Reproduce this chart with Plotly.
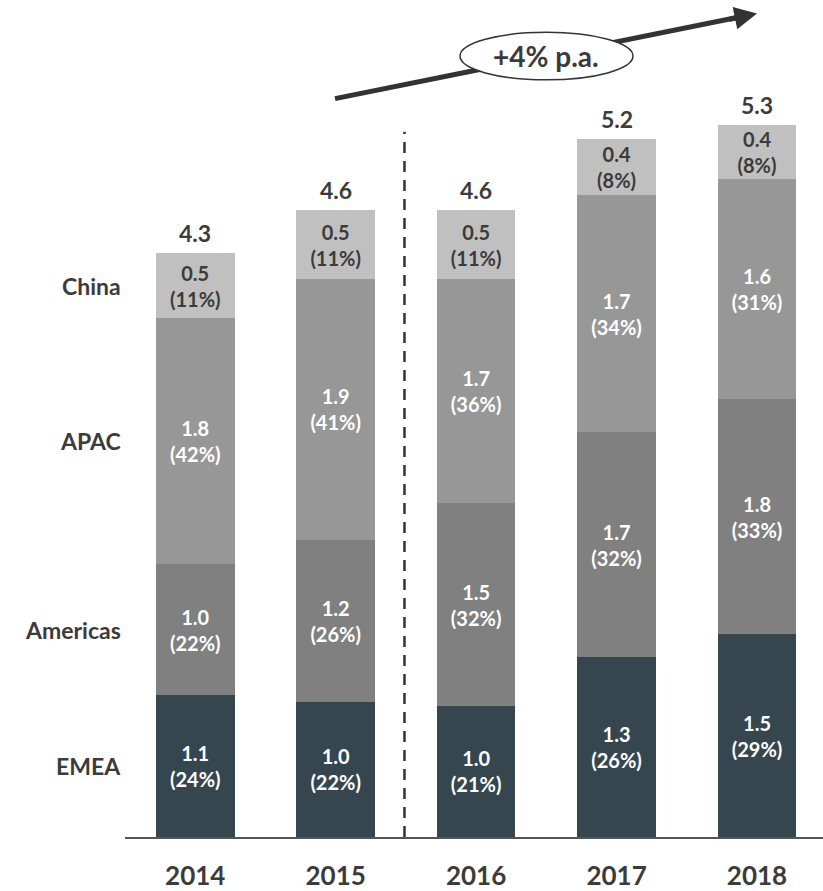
import plotly.graph_objects as go

# ---------------- data ----------------
years = ["2014", "2015", "2016", "2017", "2018"]
regions = ["EMEA", "Americas", "APAC", "China"]

emea = [1.05, 1.00, 0.97, 1.33, 1.50]
americas = [0.97, 1.20, 1.50, 1.67, 1.74]
apac = [1.82, 1.93, 1.66, 1.75, 1.63]
china = [0.48, 0.51, 0.51, 0.42, 0.40]

# labels as printed on the chart
emea_lbl = ["1.1", "1.0", "1.0", "1.3", "1.5"]
emea_pct = [24, 22, 21, 26, 29]
americas_lbl = ["1.0", "1.2", "1.5", "1.7", "1.8"]
americas_pct = [22, 26, 32, 32, 33]
apac_lbl = ["1.8", "1.9", "1.7", "1.7", "1.6"]
apac_pct = [42, 41, 36, 34, 31]
china_lbl = ["0.5", "0.5", "0.5", "0.4", "0.4"]
china_pct = [11, 11, 11, 8, 8]
total_lbl = ["4.3", "4.6", "4.6", "5.2", "5.3"]
cagr_lbl = "+4% p.a."

# ---------------- style ----------------
FONT = "Lato"
DARK = "#3b3b3b"
colors = {"EMEA": "#36464f", "Americas": "#808080", "APAC": "#979797", "China": "#c0c0c0"}
txtcol = {"EMEA": "white", "Americas": "white", "APAC": "white", "China": DARK}

W, H = 823, 891
ML, MR, MT, MB = 125, 0, 67, 46
PW, PH = W - ML - MR, H - MT - MB


def px_x(p):
    return (p - ML) / PW


def px_y(p):
    return (H - MB - p) / PH


x = list(range(len(years)))
series = [
    ("EMEA", emea, emea_lbl, emea_pct),
    ("Americas", americas, americas_lbl, americas_pct),
    ("APAC", apac, apac_lbl, apac_pct),
    ("China", china, china_lbl, china_pct),
]

fig = go.Figure()
for name, vals, lbls, pcts in series:
    fig.add_trace(go.Bar(
        x=x, y=vals, name=name, width=0.56,
        marker=dict(color=colors[name], line=dict(width=0)),
        text=[f"{l}<br>({p}%)" for l, p in zip(lbls, pcts)],
        textposition="inside", insidetextanchor="middle", textangle=0,
        constraintext="none",
        textfont=dict(family=FONT, size=20, color=txtcol[name], weight="bold"),
        hoverinfo="skip",
    ))

totals = [a + b + c + d for a, b, c, d in zip(emea, americas, apac, china)]
for i, (t, l) in enumerate(zip(totals, total_lbl)):
    fig.add_annotation(x=i, y=t, xref="x", yref="y", text=l, showarrow=False,
                       yanchor="bottom", yshift=4,
                       font=dict(family=FONT, size=23, color=DARK, weight="bold"))

# region labels at the midpoints of the 2014 bar segments
cum = 0
for name, vals, _, _ in series:
    mid = cum + vals[0] / 2
    cum += vals[0]
    fig.add_annotation(x=0, y=mid, xref="paper", yref="y", text=name, showarrow=False,
                       xanchor="right", yanchor="middle", xshift=-2,
                       font=dict(family=FONT, size=23, color=DARK, weight="bold"))

# dashed separator between 2015 and 2016
fig.add_shape(type="line", xref="x", yref="y", x0=1.49, x1=1.49, y0=0, y1=5.22,
              line=dict(color="#333333", width=2.5, dash="11px,8px"), layer="above")

# growth arrow
sx, sy = 335, 99
tx, ty = 757, 13
fig.add_shape(type="line", xref="paper", yref="paper",
              x0=px_x(sx), y0=px_y(sy), x1=px_x(tx - 10), y1=px_y(ty + 2),
              line=dict(color="#333333", width=5), layer="above")
fig.add_annotation(x=px_x(tx), y=px_y(ty), xref="paper", yref="paper", text="",
                   showarrow=True, ax=-29, ay=6, axref="pixel", ayref="pixel",
                   arrowhead=2, arrowsize=0.9, arrowwidth=5, arrowcolor="#333333")
fig.add_shape(type="circle", xref="paper", yref="paper",
              x0=px_x(460), x1=px_x(633), y0=px_y(80), y1=px_y(32),
              fillcolor="white", line=dict(color="#333333", width=1.5), layer="above")
fig.add_annotation(x=px_x(546), y=px_y(56), xref="paper", yref="paper", text=cagr_lbl,
                   showarrow=False, xanchor="center", yanchor="middle",
                   font=dict(family=FONT, size=28, color=DARK, weight="bold"))

fig.update_layout(
    width=W, height=H, barmode="stack", showlegend=False,
    margin=dict(l=ML, r=MR, t=MT, b=MB, pad=0),
    plot_bgcolor="white", paper_bgcolor="white",
    xaxis=dict(range=[-0.5, 4.47], tickvals=x, ticktext=years, showgrid=False,
               zeroline=False, showline=True, linecolor="#555555", linewidth=1.5,
               ticks="outside", ticklen=15, tickcolor="rgba(0,0,0,0)", fixedrange=True,
               tickfont=dict(family=FONT, size=26, color=DARK, weight="bold")),
    yaxis=dict(range=[0, PH / 136.5], visible=False, fixedrange=True),
)

fig.write_html("out.html")
